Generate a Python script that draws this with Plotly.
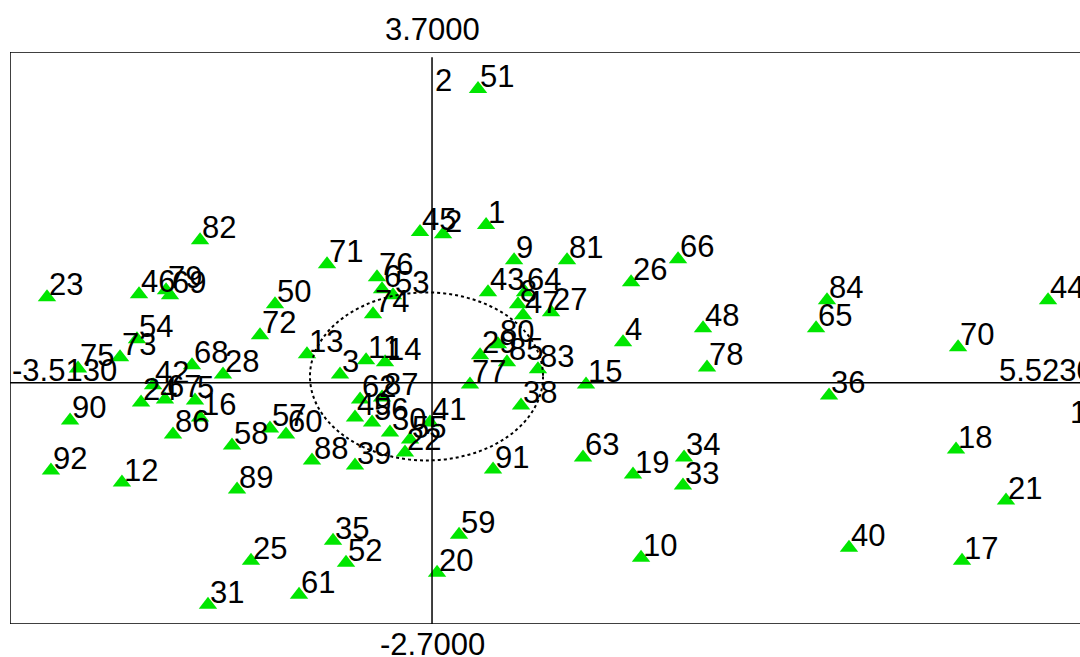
import plotly.graph_objects as go

# ---- data (ordination scores) ----
labels = [1, 2, 3, 4, 5, 6, 8, 9, 10, 11, 12, 13, 14, 15, 16, 17, 18, 19, 20, 21,
          22, 23, 24, 25, 26, 27, 28, 29, 30, 31, 33, 34, 35, 36, 38, 39, 40, 41,
          42, 43, 44, 45, 46, 47, 48, 49, 50, 51, 52, 53, 54, 55, 56, 57, 58, 59,
          60, 61, 62, 63, 64, 65, 66, 67, 68, 69, 70, 71, 72, 73, 74, 75, 76, 77,
          78, 79, 80, 81, 82, 83, 84, 85, 86, 87, 88, 89, 90, 91, 92]
axis1 = [0.450, 0.092, -0.766, 1.590, -1.973, -0.416, 0.716, 0.683, 1.740, -0.549,
         -2.581, -1.041, -0.391, 1.282, -1.931, 4.412, 4.362, 1.673, 0.042, 4.778,
         -0.225, -3.205, -2.422, -1.507, 1.657, 0.991, -1.740, 0.400, -0.350, -1.865,
         2.089, 2.098, -0.824, 3.305, 0.741, -0.641, 3.471, -0.017, -2.322, 0.466,
         5.128, -0.100, -2.439, 0.758, 2.256, -0.641, -1.307, 0.383, -0.716, -0.325,
         -2.456, -0.183, -0.499, -1.349, -1.665, 0.225, -1.215, -1.107, -0.599, 1.257,
         0.774, 3.197, 2.048, -2.223, -1.998, -2.181, 4.379, -0.874, -1.432, -2.597,
         -0.491, -2.947, -0.458, 0.316, 2.289, -2.214, 0.549, 1.124, -1.931, 0.882,
         3.288, 0.624, -2.156, -0.416, -0.999, -1.623, -3.013, 0.508, -3.172]
axis2 = [1.763, 1.662, 0.093, 0.452, -0.198, 1.046, 0.878, 1.371, -1.958, 0.250,
         -1.117, 0.317, 0.228, -0.019, -0.389, -1.992, -0.748, -1.028, -2.126, -1.319,
         -0.781, 0.956, -0.221, -1.992, 1.124, 0.788, 0.093, 0.306, -0.557, -2.485,
         -1.151, -0.837, -1.768, -0.142, -0.254, -0.927, -1.846, -0.445, -0.030, 1.012,
         0.922, 1.685, 0.990, 0.754, 0.609, -0.389, 0.878, 3.287, -2.014, 0.978,
         0.485, -0.636, -0.445, -0.512, -0.703, -1.700, -0.579, -2.373, -0.187, -0.837,
         1.012, 0.609, 1.382, -0.187, 0.194, 0.978, 0.396, 1.326, 0.530, 0.284,
         0.766, 0.160, 1.180, -0.019, 0.171, 1.035, 0.429, 1.371, 1.595, 0.149,
         0.922, 0.228, -0.579, -0.165, -0.871, -1.196, -0.423, -0.972, -0.983]

# axis extents printed on the diagram
X_MIN, X_MAX = -3.5130, 5.5230
Y_MIN, Y_MAX = -2.7000, 3.7000
tick_texts = ["3.7000", "-2.7000", "-3.5130", "5.5230"]
axis_names = ["1", "2"]

# ellipse (centre and radii in score units)
ell_cx, ell_cy, ell_rx, ell_ry = -0.046, 0.07, 0.97, 0.94

# ---- figure ----
W, H = 1080, 657
ML, MT, MB = 10, 52, 33
plot_w_full = 1095.5 - ML          # frame extends past the window edge
px_per_x = plot_w_full / (X_MAX - X_MIN)
x_visible_max = X_MIN + (W - ML) / px_per_x

FONT = "Liberation Sans, Arial, sans-serif"
FS = 31

fig = go.Figure()
fig.add_trace(go.Scatter(
    x=axis1, y=axis2, mode="markers",
    marker=dict(symbol="triangle-up", size=16, color="#00e600", line=dict(width=0)),
    hoverinfo="text", text=[str(l) for l in labels], showlegend=False,
))

annotations = []
for l, a, b in zip(labels, axis1, axis2):
    annotations.append(dict(
        x=a, y=b, xref="x", yref="y", text=str(l), showarrow=False,
        xanchor="left", yanchor="bottom", xshift=0, yshift=-7,
        font=dict(family=FONT, size=FS, color="black"),
    ))

# extent labels
annotations += [
    dict(x=0, y=Y_MAX, xref="x", yref="y", text=tick_texts[0], showarrow=False,
         xanchor="center", yanchor="bottom", yshift=3,
         font=dict(family=FONT, size=FS, color="black")),
    dict(x=0, y=Y_MIN, xref="x", yref="y", text=tick_texts[1], showarrow=False,
         xanchor="center", yanchor="top", yshift=-1,
         font=dict(family=FONT, size=FS, color="black")),
    dict(x=X_MIN, y=0, xref="x", yref="y", text=tick_texts[2], showarrow=False,
         xanchor="left", yanchor="bottom", xshift=0, yshift=-7,
         font=dict(family=FONT, size=FS, color="black")),
    dict(x=4.703, y=0, xref="x", yref="y", text=tick_texts[3], showarrow=False,
         xanchor="left", yanchor="bottom", yshift=-7,
         font=dict(family=FONT, size=FS, color="black")),
    dict(x=5.29, y=0, xref="x", yref="y", text=axis_names[0], showarrow=False,
         xanchor="left", yanchor="top", yshift=-10,
         font=dict(family=FONT, size=FS, color="black")),
    dict(x=0, y=Y_MAX, xref="x", yref="y", text=axis_names[1], showarrow=False,
         xanchor="left", yanchor="top", xshift=1, yshift=-9,
         font=dict(family=FONT, size=FS, color="black")),
]

shapes = [
    # frame (right side lies beyond the window)
    dict(type="line", xref="x", yref="y", x0=X_MIN, x1=X_MAX, y0=Y_MAX, y1=Y_MAX,
         line=dict(color="black", width=1.5)),
    dict(type="line", xref="x", yref="y", x0=X_MIN, x1=X_MAX, y0=Y_MIN, y1=Y_MIN,
         line=dict(color="black", width=1.5)),
    dict(type="line", xref="x", yref="y", x0=X_MIN, x1=X_MIN, y0=Y_MIN, y1=Y_MAX,
         line=dict(color="black", width=1.5)),
    # axes through origin
    dict(type="line", xref="x", yref="y", x0=X_MIN, x1=X_MAX, y0=0, y1=0,
         line=dict(color="black", width=1.5)),
    dict(type="line", xref="x", yref="y", x0=0, x1=0, y0=Y_MIN, y1=Y_MAX - 0.06,
         line=dict(color="black", width=1.5)),
    # dotted ellipse
    dict(type="circle", xref="x", yref="y",
         x0=ell_cx - ell_rx, x1=ell_cx + ell_rx, y0=ell_cy - ell_ry, y1=ell_cy + ell_ry,
         line=dict(color="black", width=2, dash="dot")),
]

fig.update_layout(
    width=W, height=H,
    margin=dict(l=ML, r=0, t=MT, b=MB, pad=0),
    paper_bgcolor="white", plot_bgcolor="white",
    xaxis=dict(range=[X_MIN, x_visible_max], visible=False, showgrid=False,
               zeroline=False, fixedrange=True),
    yaxis=dict(range=[Y_MIN, Y_MAX], visible=False, showgrid=False,
               zeroline=False, fixedrange=True),
    annotations=annotations,
    shapes=shapes,
    showlegend=False,
)

fig.write_html(
    "out.html",
    config={"displayModeBar": False},
    post_script="document.body.style.margin='0';document.body.style.overflow='hidden';",
)
